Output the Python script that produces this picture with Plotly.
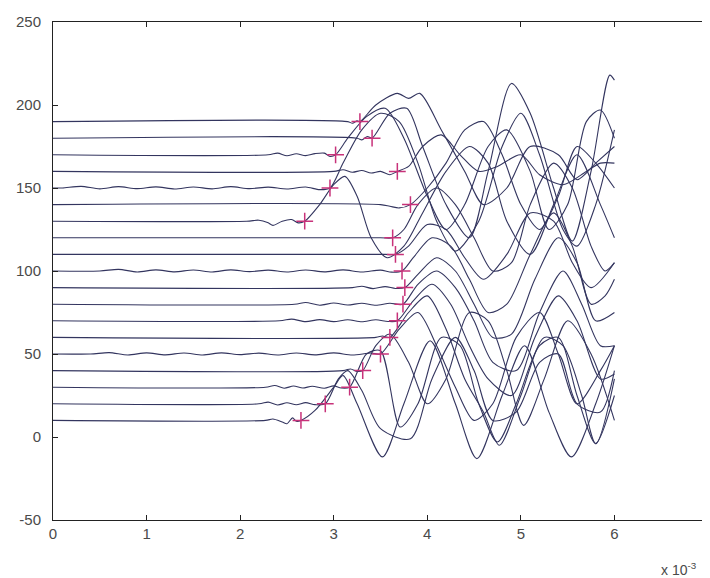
import plotly.graph_objects as go

# base level of each trace and its picked first arrival (x in units of 1e-3)
base_levels = [10, 20, 30, 40, 50, 60, 70, 80, 90, 100, 110, 120, 130, 140, 150, 160, 170, 180, 190]
arrival_x = [2.65, 2.91, 3.17, 3.31, 3.50, 3.60, 3.68, 3.74, 3.76, 3.73, 3.66, 3.63, 2.69, 3.82, 2.96, 3.68, 3.02, 3.41, 3.28]

x_ticks = [0, 1, 2, 3, 4, 5, 6, 7]
x_tick_labels = ["0", "1", "2", "3", "4", "5", "6", "7"]
y_ticks = [-50, 0, 50, 100, 150, 200, 250]
y_tick_labels = ["-50", "0", "50", "100", "150", "200", "250"]

tr10 = [(0, 10), (2.27, 10), (2.35, 10.8), (2.45, 9), (2.5, 8), (2.56, 11.5), (2.6, 9.5), (2.65, 10),
        (2.8, 16), (3.0, 30), (3.1, 37), (3.25, 20), (3.52, -12), (3.75, 20), (4.03, 58), (4.3, 20),
        (4.53, -13), (4.8, 25), (5.04, 55), (5.3, 15), (5.54, -12), (5.8, 20), (6.0, 55)]
tr20 = [(0, 20), (2.2, 20), (2.3, 21), (2.4, 19.3), (2.5, 20.6), (2.6, 19.4), (2.7, 20.7), (2.8, 19.5), (2.91, 20),
        (3.05, 35), (3.15, 40), (3.3, 28), (3.5, 5), (3.82, -1), (4.05, 35), (4.3, 60), (4.5, 40),
        (4.7, 10), (4.95, 15), (5.2, 45), (5.4, 50), (5.6, 20), (5.85, 15), (6.0, 40)]
tr30 = [(0, 30), (2.27, 30), (2.37, 31), (2.47, 29.4), (2.57, 30.7), (2.67, 29.5), (2.77, 30.6), (2.9, 29.4),
        (3.0, 30.8), (3.08, 29.5), (3.17, 30), (3.35, 50), (3.5, 52), (3.71, 6), (3.9, 20), (4.15, 60),
        (4.35, 55), (4.55, 20), (4.75, -3), (4.95, 20), (5.2, 55), (5.4, 60), (5.6, 25), (5.8, -4), (6.0, 35)]
tr40 = [(0, 40), (3.1, 40), (3.18, 41), (3.25, 39.5), (3.31, 40), (3.45, 55), (3.6, 62), (3.8, 45),
        (4.0, 20), (4.2, 35), (4.45, 75), (4.65, 70), (4.85, 40), (5.03, 7), (5.25, 35), (5.5, 70),
        (5.75, 50), (6.0, 10)]
tr50 = [(0, 50), (0.4, 50), (0.6, 50.8), (0.8, 49.4), (1.0, 50.7), (1.2, 49.5), (1.4, 50.6), (1.6, 49.4),
        (1.8, 50.7), (2.0, 49.6), (2.2, 50.5), (2.4, 49.4), (2.6, 50.6), (2.8, 49.5), (3.0, 50.7), (3.2, 49.4),
        (3.4, 50.6), (3.5, 50), (3.7, 65), (3.9, 75), (4.1, 55), (4.3, 30), (4.5, 10), (4.7, 20), (4.95, 60),
        (5.2, 75), (5.4, 50), (5.6, 20), (5.85, 40), (6.0, 55)]
tr60 = [(0, 60), (3.45, 60), (3.52, 60.8), (3.6, 60), (3.8, 75), (4.0, 85), (4.2, 65), (4.4, 35),
        (4.6, 15), (4.77, -5), (5.0, 25), (5.25, 60), (5.45, 55), (5.65, 25), (5.8, -4), (6.0, 25)]
tr70 = [(0, 70), (2.42, 70), (2.55, 71), (2.7, 69.5), (2.85, 70.7), (3.0, 69.5), (3.15, 70.6), (3.3, 69.4),
        (3.45, 70.6), (3.58, 69.6), (3.68, 70), (3.85, 82), (4.05, 92), (4.25, 80), (4.45, 55), (4.65, 35),
        (4.9, 25), (5.15, 60), (5.4, 85), (5.6, 70), (5.85, 35), (6.0, 38)]
tr80 = [(0, 80), (2.58, 80), (2.7, 81), (2.85, 79.4), (3.0, 80.7), (3.15, 79.5), (3.3, 80.6), (3.45, 79.4),
        (3.6, 80.6), (3.74, 80), (3.9, 92), (4.1, 100), (4.3, 90), (4.5, 70), (4.7, 45), (4.95, 40),
        (5.2, 75), (5.45, 100), (5.65, 80), (5.85, 55), (6.0, 55)]
tr90 = [(0, 90), (3.2, 90), (3.3, 90.8), (3.42, 89.4), (3.55, 90.6), (3.66, 89.5), (3.76, 90), (3.9, 98),
        (4.1, 108), (4.3, 100), (4.5, 80), (4.7, 60), (4.9, 62), (5.15, 95), (5.4, 120), (5.6, 105),
        (5.8, 70), (6.0, 75)]
tr100 = [(0, 100), (0.5, 100), (0.7, 101), (0.9, 99.4), (1.1, 100.7), (1.3, 99.5), (1.5, 100.6), (1.7, 99.4),
         (1.9, 100.7), (2.1, 99.6), (2.3, 100.5), (2.5, 99.4), (2.7, 100.6), (2.9, 99.5), (3.1, 100.7),
         (3.3, 99.4), (3.5, 100.5), (3.62, 99.3), (3.73, 100), (3.85, 108), (4.05, 120), (4.25, 115),
         (4.45, 95), (4.65, 75), (4.85, 80), (5.1, 110), (5.35, 135), (5.55, 115), (5.75, 80), (5.9, 85), (6.0, 95)]
tr110 = [(0, 110), (3.55, 110), (3.66, 110), (3.8, 115), (4.0, 128), (4.2, 125), (4.4, 108), (4.6, 95),
         (4.85, 110), (5.1, 135), (5.35, 130), (5.55, 105), (5.75, 90), (6.0, 105)]
tr120 = [(0, 120), (3.5, 120), (3.63, 120), (3.75, 125), (3.9, 140), (4.1, 150), (4.3, 140), (4.5, 120),
         (4.7, 100), (4.9, 105), (5.1, 140), (5.35, 165), (5.55, 150), (5.75, 115), (5.9, 100), (6.0, 105)]
tr130 = [(0, 130), (2.07, 130), (2.2, 130.6), (2.3, 129), (2.35, 127.5), (2.45, 130), (2.55, 131), (2.62, 129),
         (2.69, 130), (2.85, 140), (3.0, 152), (3.12, 157), (3.25, 145), (3.4, 120), (3.57, 108), (3.75, 115),
         (3.95, 135), (4.2, 160), (4.45, 175), (4.65, 165), (4.85, 130), (5.1, 110), (5.35, 140), (5.6, 170),
         (5.85, 140), (6.0, 120)]
tr140 = [(0, 140), (3.5, 140), (3.6, 139), (3.7, 138), (3.82, 140), (4.0, 150), (4.2, 165), (4.4, 185),
         (4.6, 190), (4.8, 170), (5.0, 140), (5.2, 125), (5.4, 145), (5.6, 175), (5.8, 165), (6.0, 150)]
tr150 = [(0, 150), (0.1, 150), (0.3, 151), (0.5, 149.5), (0.7, 150.8), (0.9, 149.6), (1.1, 150.7), (1.3, 149.4),
         (1.5, 150.6), (1.7, 149.5), (1.9, 150.8), (2.1, 149.6), (2.3, 150.5), (2.5, 149.4), (2.7, 150.6),
         (2.85, 149), (2.96, 150), (3.1, 165), (3.3, 185), (3.5, 195), (3.7, 190), (3.9, 165), (4.1, 130),
         (4.3, 112), (4.55, 130), (4.8, 175), (5.0, 195), (5.2, 170), (5.45, 125), (5.6, 115), (5.8, 140), (6.0, 185)]
tr160 = [(0, 160), (3.0, 160), (3.1, 161), (3.2, 159.5), (3.3, 160.5), (3.4, 159), (3.5, 160), (3.6, 158),
         (3.68, 160), (3.8, 163), (3.95, 175), (4.15, 182), (4.35, 170), (4.55, 160), (4.75, 163), (5.0, 170),
         (5.2, 158), (5.45, 152), (5.7, 160), (5.85, 165), (6.0, 165)]
tr170 = [(0, 170), (2.3, 170), (2.4, 171), (2.5, 169.4), (2.6, 170.6), (2.7, 169.5), (2.8, 170.7), (2.9, 171),
         (2.96, 169), (3.02, 170), (3.15, 180), (3.35, 193), (3.55, 198), (3.75, 180), (4.0, 145), (4.2, 125),
         (4.4, 140), (4.65, 175), (4.85, 185), (5.1, 160), (5.3, 125), (5.5, 140), (5.7, 190), (5.85, 197), (6.0, 180)]
tr180 = [(0, 180), (3.25, 180), (3.3, 179), (3.36, 181), (3.41, 180), (3.6, 195), (3.78, 198), (3.95, 175),
         (4.2, 140), (4.45, 120), (4.65, 160), (4.9, 213), (5.1, 195), (5.35, 150), (5.55, 118), (5.75, 160),
         (5.95, 218), (6.0, 215)]
tr190 = [(0, 190), (3.15, 190), (3.2, 189), (3.25, 190.5), (3.28, 190), (3.45, 200), (3.68, 207), (3.8, 204),
         (3.92, 207), (4.15, 185), (4.4, 160), (4.6, 140), (4.85, 150), (5.1, 175), (5.4, 170), (5.6, 155),
         (5.8, 165), (6.0, 175)]

traces = [tr10, tr20, tr30, tr40, tr50, tr60, tr70, tr80, tr90, tr100,
          tr110, tr120, tr130, tr140, tr150, tr160, tr170, tr180, tr190]

line_color = "#33355f"
marker_color = "#c8327a"

fig = go.Figure()
for tr in traces:
    fig.add_trace(go.Scatter(
        x=[p[0] for p in tr], y=[p[1] for p in tr], mode="lines",
        line=dict(color=line_color, width=1.1, shape="spline", smoothing=0.8),
        hoverinfo="skip", showlegend=False))

fig.add_trace(go.Scatter(
    x=arrival_x, y=base_levels, mode="markers",
    marker=dict(symbol="cross-thin", size=12, line=dict(color=marker_color, width=1.5)),
    showlegend=False))

axis_common = dict(showline=True, linecolor="#222", linewidth=1, mirror="ticks",
                   ticks="inside", ticklen=5, tickcolor="#222", showgrid=False, zeroline=False,
                   automargin=False,
                   tickfont=dict(family="Liberation Sans, Arial", size=15, color="#4a4a4a"))

# the page body adds an 8px offset, so the figure is sized/margined to compensate
fig.update_layout(
    width=702, height=570,
    margin=dict(l=45, r=2, t=14, b=58),
    paper_bgcolor="white", plot_bgcolor="white",
    xaxis=dict(range=[0, 7], tickvals=x_ticks, ticktext=x_tick_labels, **axis_common),
    yaxis=dict(range=[-50, 250], tickvals=y_ticks, ticktext=y_tick_labels,
               ticklabelstandoff=8, **axis_common),
    annotations=[dict(text="x 10<sup>-3</sup>", xref="paper", yref="paper", x=0.925, y=0,
                      xanchor="left", yanchor="top", yshift=-38, showarrow=False,
                      font=dict(family="Liberation Sans, Arial", size=14, color="#4a4a4a"))],
)

fig.write_html("out.html")
